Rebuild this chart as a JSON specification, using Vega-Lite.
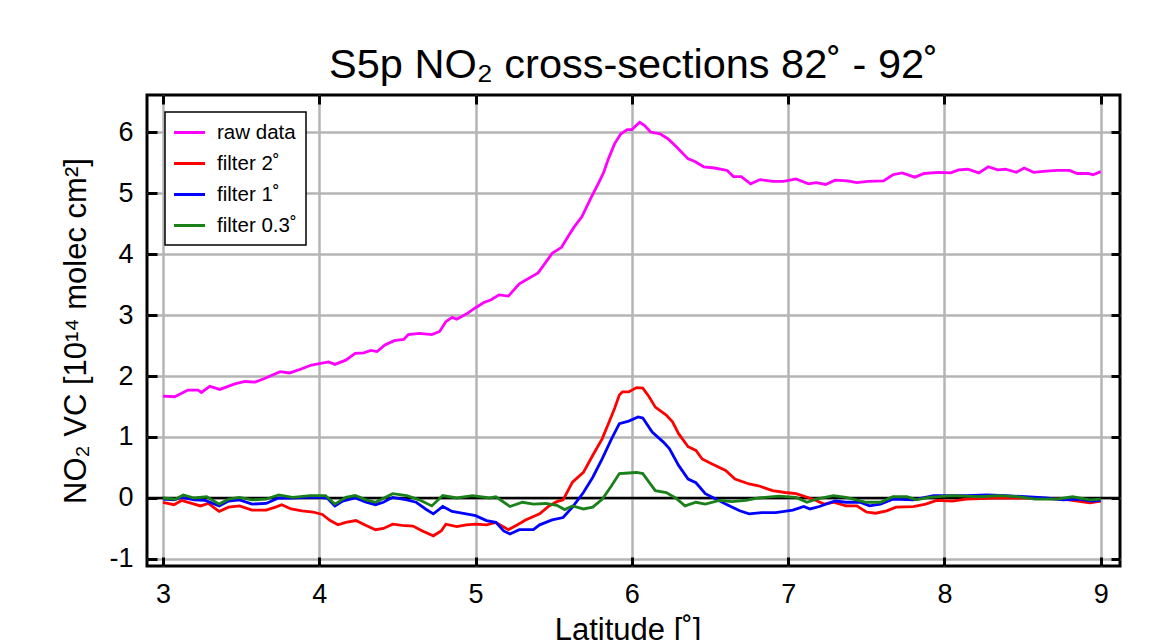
{
  "$schema": "https://vega.github.io/schema/vega-lite/v6.json",
  "width": 973,
  "height": 471,
  "autosize": {"type": "none"},
  "padding": {"left": 147, "top": 95, "right": 46, "bottom": 74},
  "background": "white",
  "config": {
    "view": {"stroke": "black", "strokeWidth": 3},
    "font": "Liberation Sans"
  },
  "title": {
    "text": "S5p NO₂ cross-sections 82˚ - 92˚",
    "font": "Liberation Sans",
    "fontSize": 41.5,
    "fontWeight": "normal",
    "color": "black",
    "anchor": "middle",
    "baseline": "alphabetic",
    "offset": -26
  },
  "datasets": {
    "series": [
      {"lat": 3.0, "vc": 1.67, "series": "raw data"},
      {"lat": 3.075, "vc": 1.66, "series": "raw data"},
      {"lat": 3.16, "vc": 1.77, "series": "raw data"},
      {"lat": 3.225, "vc": 1.77, "series": "raw data"},
      {"lat": 3.246, "vc": 1.73, "series": "raw data"},
      {"lat": 3.3, "vc": 1.83, "series": "raw data"},
      {"lat": 3.364, "vc": 1.78, "series": "raw data"},
      {"lat": 3.46, "vc": 1.87, "series": "raw data"},
      {"lat": 3.525, "vc": 1.91, "series": "raw data"},
      {"lat": 3.59, "vc": 1.9, "series": "raw data"},
      {"lat": 3.65, "vc": 1.96, "series": "raw data"},
      {"lat": 3.75, "vc": 2.07, "series": "raw data"},
      {"lat": 3.81, "vc": 2.05, "series": "raw data"},
      {"lat": 3.88, "vc": 2.11, "series": "raw data"},
      {"lat": 3.95, "vc": 2.18, "series": "raw data"},
      {"lat": 4.06, "vc": 2.23, "series": "raw data"},
      {"lat": 4.1, "vc": 2.19, "series": "raw data"},
      {"lat": 4.17, "vc": 2.26, "series": "raw data"},
      {"lat": 4.23, "vc": 2.37, "series": "raw data"},
      {"lat": 4.285, "vc": 2.38, "series": "raw data"},
      {"lat": 4.33, "vc": 2.42, "series": "raw data"},
      {"lat": 4.37, "vc": 2.4, "series": "raw data"},
      {"lat": 4.42, "vc": 2.51, "series": "raw data"},
      {"lat": 4.48, "vc": 2.58, "series": "raw data"},
      {"lat": 4.54, "vc": 2.6, "series": "raw data"},
      {"lat": 4.57, "vc": 2.68, "series": "raw data"},
      {"lat": 4.64, "vc": 2.7, "series": "raw data"},
      {"lat": 4.72, "vc": 2.68, "series": "raw data"},
      {"lat": 4.77, "vc": 2.73, "series": "raw data"},
      {"lat": 4.81, "vc": 2.89, "series": "raw data"},
      {"lat": 4.85, "vc": 2.96, "series": "raw data"},
      {"lat": 4.88, "vc": 2.93, "series": "raw data"},
      {"lat": 4.95, "vc": 3.03, "series": "raw data"},
      {"lat": 5.0, "vc": 3.12, "series": "raw data"},
      {"lat": 5.05, "vc": 3.2, "series": "raw data"},
      {"lat": 5.1, "vc": 3.25, "series": "raw data"},
      {"lat": 5.15, "vc": 3.33, "series": "raw data"},
      {"lat": 5.21, "vc": 3.31, "series": "raw data"},
      {"lat": 5.28, "vc": 3.51, "series": "raw data"},
      {"lat": 5.4, "vc": 3.69, "series": "raw data"},
      {"lat": 5.49, "vc": 4.01, "series": "raw data"},
      {"lat": 5.55, "vc": 4.11, "series": "raw data"},
      {"lat": 5.59, "vc": 4.28, "series": "raw data"},
      {"lat": 5.63, "vc": 4.44, "series": "raw data"},
      {"lat": 5.68, "vc": 4.61, "series": "raw data"},
      {"lat": 5.74, "vc": 4.93, "series": "raw data"},
      {"lat": 5.79, "vc": 5.18, "series": "raw data"},
      {"lat": 5.82, "vc": 5.34, "series": "raw data"},
      {"lat": 5.85, "vc": 5.56, "series": "raw data"},
      {"lat": 5.89, "vc": 5.81, "series": "raw data"},
      {"lat": 5.93, "vc": 5.97, "series": "raw data"},
      {"lat": 5.97, "vc": 6.04, "series": "raw data"},
      {"lat": 6.0, "vc": 6.04, "series": "raw data"},
      {"lat": 6.05, "vc": 6.16, "series": "raw data"},
      {"lat": 6.08, "vc": 6.11, "series": "raw data"},
      {"lat": 6.12, "vc": 6.0, "series": "raw data"},
      {"lat": 6.18, "vc": 5.97, "series": "raw data"},
      {"lat": 6.23, "vc": 5.89, "series": "raw data"},
      {"lat": 6.28, "vc": 5.77, "series": "raw data"},
      {"lat": 6.36, "vc": 5.56, "series": "raw data"},
      {"lat": 6.4, "vc": 5.52, "series": "raw data"},
      {"lat": 6.46, "vc": 5.43, "series": "raw data"},
      {"lat": 6.53, "vc": 5.41, "series": "raw data"},
      {"lat": 6.61, "vc": 5.37, "series": "raw data"},
      {"lat": 6.65, "vc": 5.27, "series": "raw data"},
      {"lat": 6.7, "vc": 5.27, "series": "raw data"},
      {"lat": 6.76, "vc": 5.15, "series": "raw data"},
      {"lat": 6.82, "vc": 5.22, "series": "raw data"},
      {"lat": 6.9, "vc": 5.19, "series": "raw data"},
      {"lat": 6.97, "vc": 5.19, "series": "raw data"},
      {"lat": 7.05, "vc": 5.23, "series": "raw data"},
      {"lat": 7.13, "vc": 5.15, "series": "raw data"},
      {"lat": 7.18, "vc": 5.17, "series": "raw data"},
      {"lat": 7.24, "vc": 5.14, "series": "raw data"},
      {"lat": 7.3, "vc": 5.21, "series": "raw data"},
      {"lat": 7.38, "vc": 5.2, "series": "raw data"},
      {"lat": 7.44, "vc": 5.17, "series": "raw data"},
      {"lat": 7.51, "vc": 5.19, "series": "raw data"},
      {"lat": 7.61, "vc": 5.2, "series": "raw data"},
      {"lat": 7.67, "vc": 5.3, "series": "raw data"},
      {"lat": 7.73, "vc": 5.33, "series": "raw data"},
      {"lat": 7.81, "vc": 5.26, "series": "raw data"},
      {"lat": 7.87, "vc": 5.32, "series": "raw data"},
      {"lat": 7.96, "vc": 5.34, "series": "raw data"},
      {"lat": 8.04, "vc": 5.33, "series": "raw data"},
      {"lat": 8.09, "vc": 5.38, "series": "raw data"},
      {"lat": 8.15, "vc": 5.39, "series": "raw data"},
      {"lat": 8.22, "vc": 5.33, "series": "raw data"},
      {"lat": 8.28, "vc": 5.43, "series": "raw data"},
      {"lat": 8.34, "vc": 5.38, "series": "raw data"},
      {"lat": 8.39, "vc": 5.39, "series": "raw data"},
      {"lat": 8.46, "vc": 5.34, "series": "raw data"},
      {"lat": 8.51, "vc": 5.41, "series": "raw data"},
      {"lat": 8.57, "vc": 5.34, "series": "raw data"},
      {"lat": 8.65, "vc": 5.36, "series": "raw data"},
      {"lat": 8.72, "vc": 5.37, "series": "raw data"},
      {"lat": 8.8, "vc": 5.37, "series": "raw data"},
      {"lat": 8.85, "vc": 5.32, "series": "raw data"},
      {"lat": 8.92, "vc": 5.32, "series": "raw data"},
      {"lat": 8.95, "vc": 5.3, "series": "raw data"},
      {"lat": 9.0, "vc": 5.35, "series": "raw data"},

      {"lat": 3.0, "vc": -0.07, "series": "filter 2˚"},
      {"lat": 3.07, "vc": -0.11, "series": "filter 2˚"},
      {"lat": 3.12, "vc": -0.04, "series": "filter 2˚"},
      {"lat": 3.2, "vc": -0.1, "series": "filter 2˚"},
      {"lat": 3.24, "vc": -0.13, "series": "filter 2˚"},
      {"lat": 3.29, "vc": -0.09, "series": "filter 2˚"},
      {"lat": 3.36, "vc": -0.22, "series": "filter 2˚"},
      {"lat": 3.42, "vc": -0.15, "series": "filter 2˚"},
      {"lat": 3.49, "vc": -0.13, "series": "filter 2˚"},
      {"lat": 3.57, "vc": -0.2, "series": "filter 2˚"},
      {"lat": 3.66, "vc": -0.2, "series": "filter 2˚"},
      {"lat": 3.72, "vc": -0.15, "series": "filter 2˚"},
      {"lat": 3.76, "vc": -0.11, "series": "filter 2˚"},
      {"lat": 3.82, "vc": -0.18, "series": "filter 2˚"},
      {"lat": 3.89, "vc": -0.21, "series": "filter 2˚"},
      {"lat": 3.96, "vc": -0.23, "series": "filter 2˚"},
      {"lat": 4.02, "vc": -0.27, "series": "filter 2˚"},
      {"lat": 4.07, "vc": -0.37, "series": "filter 2˚"},
      {"lat": 4.12, "vc": -0.44, "series": "filter 2˚"},
      {"lat": 4.17, "vc": -0.4, "series": "filter 2˚"},
      {"lat": 4.235, "vc": -0.37, "series": "filter 2˚"},
      {"lat": 4.3, "vc": -0.45, "series": "filter 2˚"},
      {"lat": 4.36, "vc": -0.52, "series": "filter 2˚"},
      {"lat": 4.41, "vc": -0.5, "series": "filter 2˚"},
      {"lat": 4.47, "vc": -0.43, "series": "filter 2˚"},
      {"lat": 4.53, "vc": -0.45, "series": "filter 2˚"},
      {"lat": 4.6, "vc": -0.46, "series": "filter 2˚"},
      {"lat": 4.66, "vc": -0.54, "series": "filter 2˚"},
      {"lat": 4.73, "vc": -0.62, "series": "filter 2˚"},
      {"lat": 4.78, "vc": -0.54, "series": "filter 2˚"},
      {"lat": 4.81, "vc": -0.43, "series": "filter 2˚"},
      {"lat": 4.88, "vc": -0.47, "series": "filter 2˚"},
      {"lat": 4.94, "vc": -0.44, "series": "filter 2˚"},
      {"lat": 5.0, "vc": -0.43, "series": "filter 2˚"},
      {"lat": 5.07, "vc": -0.44, "series": "filter 2˚"},
      {"lat": 5.13, "vc": -0.4, "series": "filter 2˚"},
      {"lat": 5.21, "vc": -0.52, "series": "filter 2˚"},
      {"lat": 5.26, "vc": -0.45, "series": "filter 2˚"},
      {"lat": 5.32, "vc": -0.36, "series": "filter 2˚"},
      {"lat": 5.41, "vc": -0.26, "series": "filter 2˚"},
      {"lat": 5.47, "vc": -0.13, "series": "filter 2˚"},
      {"lat": 5.52, "vc": -0.06, "series": "filter 2˚"},
      {"lat": 5.56, "vc": -0.03, "series": "filter 2˚"},
      {"lat": 5.62, "vc": 0.26, "series": "filter 2˚"},
      {"lat": 5.69, "vc": 0.42, "series": "filter 2˚"},
      {"lat": 5.75, "vc": 0.7, "series": "filter 2˚"},
      {"lat": 5.81, "vc": 0.97, "series": "filter 2˚"},
      {"lat": 5.855, "vc": 1.25, "series": "filter 2˚"},
      {"lat": 5.89, "vc": 1.47, "series": "filter 2˚"},
      {"lat": 5.92, "vc": 1.69, "series": "filter 2˚"},
      {"lat": 5.94, "vc": 1.74, "series": "filter 2˚"},
      {"lat": 5.98, "vc": 1.74, "series": "filter 2˚"},
      {"lat": 6.03, "vc": 1.81, "series": "filter 2˚"},
      {"lat": 6.07, "vc": 1.8, "series": "filter 2˚"},
      {"lat": 6.11, "vc": 1.66, "series": "filter 2˚"},
      {"lat": 6.15, "vc": 1.49, "series": "filter 2˚"},
      {"lat": 6.22, "vc": 1.36, "series": "filter 2˚"},
      {"lat": 6.26, "vc": 1.25, "series": "filter 2˚"},
      {"lat": 6.3, "vc": 1.05, "series": "filter 2˚"},
      {"lat": 6.36, "vc": 0.84, "series": "filter 2˚"},
      {"lat": 6.41, "vc": 0.78, "series": "filter 2˚"},
      {"lat": 6.45, "vc": 0.64, "series": "filter 2˚"},
      {"lat": 6.51, "vc": 0.56, "series": "filter 2˚"},
      {"lat": 6.6, "vc": 0.45, "series": "filter 2˚"},
      {"lat": 6.66, "vc": 0.31, "series": "filter 2˚"},
      {"lat": 6.75, "vc": 0.23, "series": "filter 2˚"},
      {"lat": 6.81, "vc": 0.2, "series": "filter 2˚"},
      {"lat": 6.9, "vc": 0.12, "series": "filter 2˚"},
      {"lat": 6.98, "vc": 0.09, "series": "filter 2˚"},
      {"lat": 7.05, "vc": 0.07, "series": "filter 2˚"},
      {"lat": 7.16, "vc": -0.02, "series": "filter 2˚"},
      {"lat": 7.23, "vc": -0.1, "series": "filter 2˚"},
      {"lat": 7.29, "vc": -0.07, "series": "filter 2˚"},
      {"lat": 7.37, "vc": -0.13, "series": "filter 2˚"},
      {"lat": 7.44, "vc": -0.13, "series": "filter 2˚"},
      {"lat": 7.5, "vc": -0.23, "series": "filter 2˚"},
      {"lat": 7.56, "vc": -0.25, "series": "filter 2˚"},
      {"lat": 7.63, "vc": -0.21, "series": "filter 2˚"},
      {"lat": 7.69, "vc": -0.15, "series": "filter 2˚"},
      {"lat": 7.8, "vc": -0.14, "series": "filter 2˚"},
      {"lat": 7.88, "vc": -0.1, "series": "filter 2˚"},
      {"lat": 7.95, "vc": -0.04, "series": "filter 2˚"},
      {"lat": 8.05, "vc": -0.05, "series": "filter 2˚"},
      {"lat": 8.14, "vc": -0.02, "series": "filter 2˚"},
      {"lat": 8.31, "vc": 0.0, "series": "filter 2˚"},
      {"lat": 8.54, "vc": 0.0, "series": "filter 2˚"},
      {"lat": 8.76, "vc": -0.02, "series": "filter 2˚"},
      {"lat": 8.93, "vc": -0.08, "series": "filter 2˚"},
      {"lat": 9.0, "vc": -0.05, "series": "filter 2˚"},

      {"lat": 3.0, "vc": -0.02, "series": "filter 1˚"},
      {"lat": 3.07, "vc": -0.03, "series": "filter 1˚"},
      {"lat": 3.12, "vc": 0.01, "series": "filter 1˚"},
      {"lat": 3.2, "vc": -0.03, "series": "filter 1˚"},
      {"lat": 3.27, "vc": -0.04, "series": "filter 1˚"},
      {"lat": 3.36, "vc": -0.13, "series": "filter 1˚"},
      {"lat": 3.42, "vc": -0.05, "series": "filter 1˚"},
      {"lat": 3.49, "vc": -0.03, "series": "filter 1˚"},
      {"lat": 3.57, "vc": -0.1, "series": "filter 1˚"},
      {"lat": 3.66, "vc": -0.09, "series": "filter 1˚"},
      {"lat": 3.74, "vc": 0.0, "series": "filter 1˚"},
      {"lat": 3.83, "vc": 0.0, "series": "filter 1˚"},
      {"lat": 3.91, "vc": 0.01, "series": "filter 1˚"},
      {"lat": 4.0, "vc": 0.01, "series": "filter 1˚"},
      {"lat": 4.05, "vc": 0.0, "series": "filter 1˚"},
      {"lat": 4.1, "vc": -0.13, "series": "filter 1˚"},
      {"lat": 4.15, "vc": -0.05, "series": "filter 1˚"},
      {"lat": 4.23, "vc": 0.0, "series": "filter 1˚"},
      {"lat": 4.3, "vc": -0.07, "series": "filter 1˚"},
      {"lat": 4.36, "vc": -0.11, "series": "filter 1˚"},
      {"lat": 4.41, "vc": -0.07, "series": "filter 1˚"},
      {"lat": 4.47, "vc": 0.01, "series": "filter 1˚"},
      {"lat": 4.56, "vc": -0.03, "series": "filter 1˚"},
      {"lat": 4.62, "vc": -0.07, "series": "filter 1˚"},
      {"lat": 4.68, "vc": -0.18, "series": "filter 1˚"},
      {"lat": 4.73, "vc": -0.26, "series": "filter 1˚"},
      {"lat": 4.79, "vc": -0.14, "series": "filter 1˚"},
      {"lat": 4.85, "vc": -0.22, "series": "filter 1˚"},
      {"lat": 4.94, "vc": -0.26, "series": "filter 1˚"},
      {"lat": 5.0, "vc": -0.29, "series": "filter 1˚"},
      {"lat": 5.07, "vc": -0.37, "series": "filter 1˚"},
      {"lat": 5.13, "vc": -0.4, "series": "filter 1˚"},
      {"lat": 5.18, "vc": -0.54, "series": "filter 1˚"},
      {"lat": 5.22, "vc": -0.59, "series": "filter 1˚"},
      {"lat": 5.28, "vc": -0.52, "series": "filter 1˚"},
      {"lat": 5.37, "vc": -0.52, "series": "filter 1˚"},
      {"lat": 5.41, "vc": -0.44, "series": "filter 1˚"},
      {"lat": 5.49, "vc": -0.36, "series": "filter 1˚"},
      {"lat": 5.56, "vc": -0.32, "series": "filter 1˚"},
      {"lat": 5.62, "vc": -0.15, "series": "filter 1˚"},
      {"lat": 5.69, "vc": 0.09, "series": "filter 1˚"},
      {"lat": 5.75, "vc": 0.34, "series": "filter 1˚"},
      {"lat": 5.81, "vc": 0.64, "series": "filter 1˚"},
      {"lat": 5.87, "vc": 0.97, "series": "filter 1˚"},
      {"lat": 5.92, "vc": 1.22, "series": "filter 1˚"},
      {"lat": 5.98, "vc": 1.26, "series": "filter 1˚"},
      {"lat": 6.04, "vc": 1.33, "series": "filter 1˚"},
      {"lat": 6.07, "vc": 1.31, "series": "filter 1˚"},
      {"lat": 6.13, "vc": 1.08, "series": "filter 1˚"},
      {"lat": 6.2, "vc": 0.92, "series": "filter 1˚"},
      {"lat": 6.24, "vc": 0.81, "series": "filter 1˚"},
      {"lat": 6.3, "vc": 0.53, "series": "filter 1˚"},
      {"lat": 6.36, "vc": 0.31, "series": "filter 1˚"},
      {"lat": 6.41, "vc": 0.25, "series": "filter 1˚"},
      {"lat": 6.47, "vc": 0.07, "series": "filter 1˚"},
      {"lat": 6.54, "vc": -0.02, "series": "filter 1˚"},
      {"lat": 6.6, "vc": -0.1, "series": "filter 1˚"},
      {"lat": 6.69, "vc": -0.21, "series": "filter 1˚"},
      {"lat": 6.75, "vc": -0.26, "series": "filter 1˚"},
      {"lat": 6.83, "vc": -0.24, "series": "filter 1˚"},
      {"lat": 6.92, "vc": -0.24, "series": "filter 1˚"},
      {"lat": 7.03, "vc": -0.2, "series": "filter 1˚"},
      {"lat": 7.1, "vc": -0.14, "series": "filter 1˚"},
      {"lat": 7.14, "vc": -0.18, "series": "filter 1˚"},
      {"lat": 7.2, "vc": -0.14, "series": "filter 1˚"},
      {"lat": 7.3, "vc": -0.05, "series": "filter 1˚"},
      {"lat": 7.37, "vc": -0.07, "series": "filter 1˚"},
      {"lat": 7.46, "vc": -0.07, "series": "filter 1˚"},
      {"lat": 7.52, "vc": -0.13, "series": "filter 1˚"},
      {"lat": 7.59, "vc": -0.1, "series": "filter 1˚"},
      {"lat": 7.67, "vc": -0.02, "series": "filter 1˚"},
      {"lat": 7.8, "vc": -0.03, "series": "filter 1˚"},
      {"lat": 7.93, "vc": 0.04, "series": "filter 1˚"},
      {"lat": 8.01, "vc": 0.04, "series": "filter 1˚"},
      {"lat": 8.14, "vc": 0.04, "series": "filter 1˚"},
      {"lat": 8.27, "vc": 0.05, "series": "filter 1˚"},
      {"lat": 8.39, "vc": 0.04, "series": "filter 1˚"},
      {"lat": 8.52, "vc": 0.02, "series": "filter 1˚"},
      {"lat": 8.65, "vc": 0.0, "series": "filter 1˚"},
      {"lat": 8.76, "vc": -0.03, "series": "filter 1˚"},
      {"lat": 8.86, "vc": -0.02, "series": "filter 1˚"},
      {"lat": 8.94, "vc": -0.05, "series": "filter 1˚"},
      {"lat": 9.0, "vc": -0.04, "series": "filter 1˚"},

      {"lat": 3.0, "vc": 0.0, "series": "filter 0.3˚"},
      {"lat": 3.08, "vc": -0.02, "series": "filter 0.3˚"},
      {"lat": 3.13, "vc": 0.05, "series": "filter 0.3˚"},
      {"lat": 3.2, "vc": 0.0, "series": "filter 0.3˚"},
      {"lat": 3.28, "vc": 0.02, "series": "filter 0.3˚"},
      {"lat": 3.36, "vc": -0.1, "series": "filter 0.3˚"},
      {"lat": 3.42, "vc": -0.02, "series": "filter 0.3˚"},
      {"lat": 3.49, "vc": 0.01, "series": "filter 0.3˚"},
      {"lat": 3.57, "vc": -0.03, "series": "filter 0.3˚"},
      {"lat": 3.66, "vc": -0.02, "series": "filter 0.3˚"},
      {"lat": 3.74, "vc": 0.05, "series": "filter 0.3˚"},
      {"lat": 3.83, "vc": 0.01, "series": "filter 0.3˚"},
      {"lat": 3.94, "vc": 0.04, "series": "filter 0.3˚"},
      {"lat": 4.04, "vc": 0.04, "series": "filter 0.3˚"},
      {"lat": 4.1, "vc": -0.1, "series": "filter 0.3˚"},
      {"lat": 4.17, "vc": 0.01, "series": "filter 0.3˚"},
      {"lat": 4.23, "vc": 0.04, "series": "filter 0.3˚"},
      {"lat": 4.3, "vc": -0.03, "series": "filter 0.3˚"},
      {"lat": 4.36, "vc": -0.07, "series": "filter 0.3˚"},
      {"lat": 4.47, "vc": 0.07, "series": "filter 0.3˚"},
      {"lat": 4.56, "vc": 0.04, "series": "filter 0.3˚"},
      {"lat": 4.64, "vc": -0.03, "series": "filter 0.3˚"},
      {"lat": 4.72, "vc": -0.13, "series": "filter 0.3˚"},
      {"lat": 4.79, "vc": 0.04, "series": "filter 0.3˚"},
      {"lat": 4.88, "vc": 0.0, "series": "filter 0.3˚"},
      {"lat": 4.98, "vc": 0.04, "series": "filter 0.3˚"},
      {"lat": 5.09, "vc": 0.0, "series": "filter 0.3˚"},
      {"lat": 5.13, "vc": 0.02, "series": "filter 0.3˚"},
      {"lat": 5.22, "vc": -0.14, "series": "filter 0.3˚"},
      {"lat": 5.3, "vc": -0.07, "series": "filter 0.3˚"},
      {"lat": 5.37, "vc": -0.1, "series": "filter 0.3˚"},
      {"lat": 5.45, "vc": -0.09, "series": "filter 0.3˚"},
      {"lat": 5.52, "vc": -0.12, "series": "filter 0.3˚"},
      {"lat": 5.57, "vc": -0.19, "series": "filter 0.3˚"},
      {"lat": 5.62, "vc": -0.13, "series": "filter 0.3˚"},
      {"lat": 5.69, "vc": -0.18, "series": "filter 0.3˚"},
      {"lat": 5.75, "vc": -0.15, "series": "filter 0.3˚"},
      {"lat": 5.81, "vc": -0.02, "series": "filter 0.3˚"},
      {"lat": 5.87, "vc": 0.2, "series": "filter 0.3˚"},
      {"lat": 5.92, "vc": 0.4, "series": "filter 0.3˚"},
      {"lat": 5.98, "vc": 0.41, "series": "filter 0.3˚"},
      {"lat": 6.03, "vc": 0.42, "series": "filter 0.3˚"},
      {"lat": 6.07, "vc": 0.4, "series": "filter 0.3˚"},
      {"lat": 6.11, "vc": 0.26, "series": "filter 0.3˚"},
      {"lat": 6.15, "vc": 0.12, "series": "filter 0.3˚"},
      {"lat": 6.22, "vc": 0.09, "series": "filter 0.3˚"},
      {"lat": 6.28, "vc": 0.0, "series": "filter 0.3˚"},
      {"lat": 6.34, "vc": -0.13, "series": "filter 0.3˚"},
      {"lat": 6.41, "vc": -0.07, "series": "filter 0.3˚"},
      {"lat": 6.47, "vc": -0.1, "series": "filter 0.3˚"},
      {"lat": 6.56, "vc": -0.04, "series": "filter 0.3˚"},
      {"lat": 6.64, "vc": -0.06, "series": "filter 0.3˚"},
      {"lat": 6.73, "vc": -0.04, "series": "filter 0.3˚"},
      {"lat": 6.81, "vc": 0.0, "series": "filter 0.3˚"},
      {"lat": 6.94, "vc": 0.03, "series": "filter 0.3˚"},
      {"lat": 7.05, "vc": 0.01, "series": "filter 0.3˚"},
      {"lat": 7.12, "vc": -0.07, "series": "filter 0.3˚"},
      {"lat": 7.18, "vc": -0.02, "series": "filter 0.3˚"},
      {"lat": 7.29, "vc": 0.04, "series": "filter 0.3˚"},
      {"lat": 7.37, "vc": 0.01, "series": "filter 0.3˚"},
      {"lat": 7.5, "vc": -0.07, "series": "filter 0.3˚"},
      {"lat": 7.59, "vc": -0.07, "series": "filter 0.3˚"},
      {"lat": 7.67, "vc": 0.02, "series": "filter 0.3˚"},
      {"lat": 7.76, "vc": 0.02, "series": "filter 0.3˚"},
      {"lat": 7.82, "vc": -0.03, "series": "filter 0.3˚"},
      {"lat": 7.9, "vc": 0.01, "series": "filter 0.3˚"},
      {"lat": 8.05, "vc": 0.04, "series": "filter 0.3˚"},
      {"lat": 8.22, "vc": 0.02, "series": "filter 0.3˚"},
      {"lat": 8.35, "vc": 0.04, "series": "filter 0.3˚"},
      {"lat": 8.48, "vc": 0.02, "series": "filter 0.3˚"},
      {"lat": 8.58, "vc": -0.02, "series": "filter 0.3˚"},
      {"lat": 8.72, "vc": -0.02, "series": "filter 0.3˚"},
      {"lat": 8.82, "vc": 0.02, "series": "filter 0.3˚"},
      {"lat": 8.93, "vc": -0.03, "series": "filter 0.3˚"},
      {"lat": 9.0, "vc": -0.02, "series": "filter 0.3˚"}
    ],
    "zero": [{"x0": 2.898, "x1": 9.123, "vc": 0}]
  },
  "layer": [
    {
      "data": {"name": "zero"},
      "mark": {"type": "rule", "color": "black", "strokeWidth": 2.6},
      "encoding": {
        "x": {
          "field": "x0", "type": "quantitative",
          "scale": {"domain": [2.898, 9.123], "nice": false, "zero": false},
          "axis": {"orient": "top", "values": [3, 4, 5, 6, 7, 8, 9], "labels": false, "grid": false, "domain": false, "ticks": true, "tickSize": -9, "tickWidth": 3, "tickColor": "black", "title": null}
        },
        "x2": {"field": "x1"},
        "y": {
          "field": "vc", "type": "quantitative",
          "scale": {"domain": [-1.115, 6.607], "nice": false, "zero": false},
          "axis": {"orient": "right", "values": [-1, 0, 1, 2, 3, 4, 5, 6], "labels": false, "grid": false, "domain": false, "ticks": true, "tickSize": -9, "tickWidth": 3, "tickColor": "black", "title": null}
        }
      }
    },
    {
      "data": {"name": "series"},
      "mark": {"type": "line", "strokeWidth": 2.8, "interpolate": "linear"},
      "encoding": {
        "x": {
          "field": "lat", "type": "quantitative",
          "scale": {"domain": [2.898, 9.123], "nice": false, "zero": false},
          "axis": {
            "orient": "bottom", "values": [3, 4, 5, 6, 7, 8, 9], "labelExpr": "'' + datum.value",
            "grid": true, "gridColor": "#b4b4b4", "gridWidth": 2.5, "gridOpacity": 1,
            "domain": false, "ticks": true, "tickSize": -9, "tickWidth": 3, "tickColor": "black",
            "labelFont": "Liberation Sans", "labelFontSize": 27, "labelColor": "black", "labelPadding": 24,
            "title": "Latitude [˚]", "titleFont": "Liberation Sans", "titleFontSize": 31, "titleFontWeight": "normal", "titleColor": "black",
            "titleBaseline": "alphabetic", "titleY": 73, "titleX": 480.5
          }
        },
        "y": {
          "field": "vc", "type": "quantitative",
          "scale": {"domain": [-1.115, 6.607], "nice": false, "zero": false},
          "axis": {
            "orient": "left", "values": [-1, 0, 1, 2, 3, 4, 5, 6], "labelExpr": "'' + datum.value",
            "grid": true, "gridColor": "#b4b4b4", "gridWidth": 2.5, "gridOpacity": 1,
            "domain": false, "ticks": true, "tickSize": -10, "tickWidth": 3, "tickColor": "black",
            "labelFont": "Liberation Sans", "labelFontSize": 27, "labelColor": "black", "labelPadding": 24,
            "title": "NO₂ VC [10¹⁴ molec cm²]", "titleFont": "Liberation Sans", "titleFontSize": 31, "titleFontWeight": "normal", "titleColor": "black",
            "titleBaseline": "alphabetic", "titleX": -62
          }
        },
        "color": {
          "field": "series", "type": "nominal", "sort": null,
          "scale": {"domain": ["raw data", "filter 2˚", "filter 1˚", "filter 0.3˚"], "range": ["#ff00ff", "#ff0000", "#0000ff", "#1a801a"]},
          "legend": {
            "title": null, "orient": "none", "legendX": 18, "legendY": 17,
            "fillColor": "white", "strokeColor": "black", "padding": 9,
            "symbolType": "M-1.55,0H1.55", "symbolSize": 400, "symbolStrokeWidth": 3, "symbolOffset": 4,
            "labelFont": "Liberation Sans", "labelFontSize": 20.5, "labelColor": "black", "labelOffset": 16,
            "rowPadding": 9,
            "encode": {"legend": {"update": {"strokeWidth": {"value": 1.5}}}}
          }
        }
      }
    }
  ],
  "resolve": {"axis": {"x": "independent", "y": "independent"}}
}
